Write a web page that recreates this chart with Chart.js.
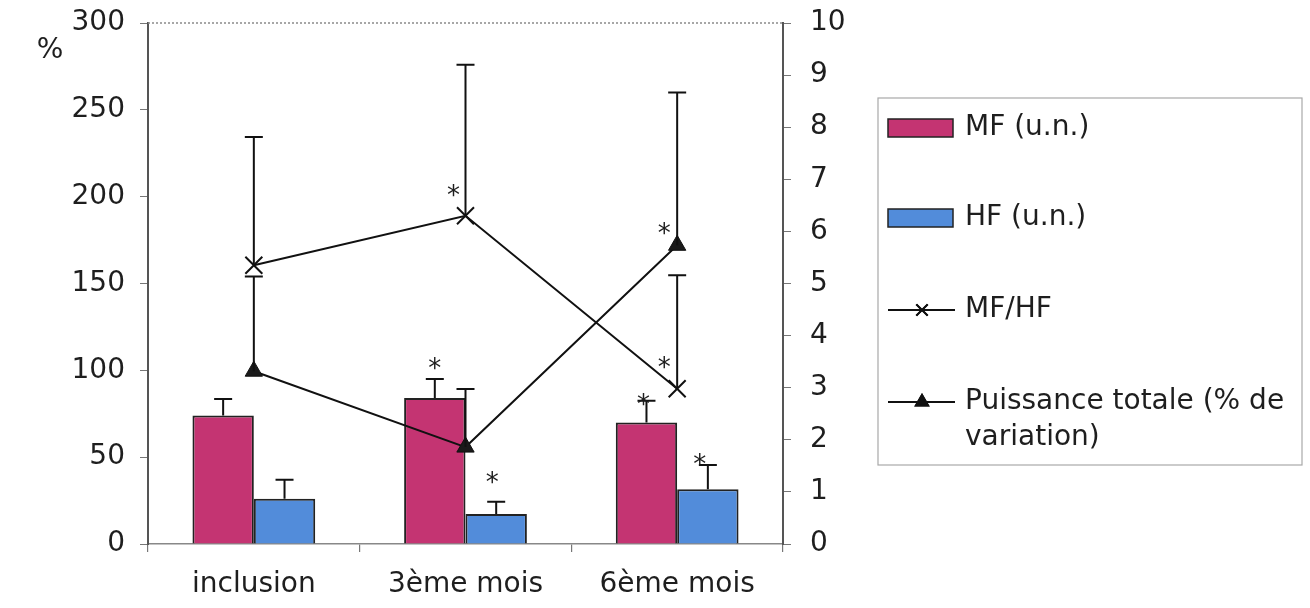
<!DOCTYPE html>
<html>
<head>
<meta charset="utf-8">
<script src="https://cdn.jsdelivr.net/npm/chart.js@4.4.0/dist/chart.umd.min.js"></script>
<style>
  html, body { margin: 0; padding: 0; background: #fff; }
  #wrap { position: relative; width: 1310px; height: 608px; }
</style>
</head>
<body>
<div id="wrap"><canvas id="chart"></canvas></div>
<script>
// data
const categories = ['inclusion', '3ème mois', '6ème mois'];

const mfValues = [74, 84, 70];
const mfErrors = [9.5, 11, 12.5];
const hfValues = [26, 17.3, 31.5];
const hfErrors = [11, 7, 14];

// MF/HF on the right axis (0-10)
const ratioValues = [5.35, 6.3, 2.98];
const ratioErrors = [2.46, 2.9, 2.18];

// puissance totale on the left axis (%)
const powerValues = [99.5, 55.8, 172];
const powerErrors = [54.5, 33.5, 88];

// asterisks (significance) per point
const mfStars = [false, true, true];
const hfStars = [false, true, true];
const ratioStars = [false, true, true];
const powerStars = [false, false, true];

const leftTickStep = 50;
const rightTickStep = 1;

const FONT = '"DejaVu Sans", Verdana, sans-serif';
const FSIZE = 28;
const TEXT = '#1e1e1e';
const MF_COLOR = '#c43472';
const HF_COLOR = '#528cda';

let errorBars = {
    id: 'errorBars',
    afterDatasetsDraw(chart) {
        let ctx = chart.ctx;
        ctx.save();
        ctx.strokeStyle = '#111';
        ctx.lineWidth = 2;
        chart.data.datasets.forEach((ds, i) => {
            if (!ds.errors) return;
            let meta = chart.getDatasetMeta(i);
            let scale = chart.scales[ds.yAxisID];
            meta.data.forEach((el, j) => {
                let v = ds.data[j];
                let top = scale.getPixelForValue(v + ds.errors[j]);
                let base = scale.getPixelForValue(v);
                ctx.beginPath();
                ctx.moveTo(el.x, base);
                ctx.lineTo(el.x, top);
                ctx.moveTo(el.x - 9, top);
                ctx.lineTo(el.x + 9, top);
                ctx.stroke();
            });
        });
        ctx.restore();
    }
};

// where the star sits relative to the point (pixels)
let starOffsets = {
    'MF (u.n.)': [[0, 0], [0, -16], [-3, -1]],
    'HF (u.n.)': [[0, 0], [-4, -24], [-8, -5]],
    'MF/HF': [[0, 0], [-12, -25], [-13, -26]],
    'Puissance totale (% de variation)': [[0, 0], [0, 0], [-13, -17]]
};

let stars = {
    id: 'stars',
    afterDatasetsDraw(chart) {
        let ctx = chart.ctx;
        ctx.save();
        ctx.fillStyle = TEXT;
        ctx.font = '26px ' + FONT;
        ctx.textAlign = 'center';
        ctx.textBaseline = 'alphabetic';
        let m = ctx.measureText('*');
        let mid = (m.actualBoundingBoxAscent - m.actualBoundingBoxDescent) / 2;
        chart.data.datasets.forEach((ds, i) => {
            if (!ds.stars) return;
            let meta = chart.getDatasetMeta(i);
            let scale = chart.scales[ds.yAxisID];
            meta.data.forEach((el, j) => {
                if (!ds.stars[j]) return;
                let off = starOffsets[ds.label][j];
                let anchor = ds.type === 'line'
                    ? scale.getPixelForValue(ds.data[j])
                    : scale.getPixelForValue(ds.data[j] + ds.errors[j]);
                ctx.fillText('*', el.x + off[0], anchor + off[1] + mid);
            });
        });
        ctx.restore();
    }
};

let frame = {
    id: 'frame',
    beforeDatasetsDraw(chart) {
        let a = chart.chartArea;
        let ctx = chart.ctx;
        ctx.save();
        ctx.strokeStyle = '#8a8a8a';
        ctx.lineWidth = 1.5;
        ctx.setLineDash([2, 2]);
        ctx.beginPath();
        ctx.moveTo(a.left, a.top);
        ctx.lineTo(a.right, a.top);
        ctx.stroke();
        ctx.restore();
    },
    afterDraw(chart) {
        let ctx = chart.ctx;
        ctx.save();
        ctx.fillStyle = TEXT;
        ctx.font = FSIZE + 'px ' + FONT;
        ctx.textAlign = 'center';
        ctx.textBaseline = 'middle';
        ctx.fillText('%', 50, 51);
        ctx.restore();
    }
};

let boxLegend = {
    id: 'boxLegend',
    afterDraw(chart) {
        let ctx = chart.ctx;
        ctx.save();
        ctx.strokeStyle = '#a8a8a8';
        ctx.lineWidth = 1.2;
        ctx.strokeRect(878, 98, 424, 367);
        let rows = [128, 218, 310, 402];
        ctx.font = FSIZE + 'px ' + FONT;
        ctx.textBaseline = 'middle';
        ctx.textAlign = 'left';
        chart.data.datasets.forEach((ds, i) => {
            let y = rows[i];
            if (ds.type === 'line') {
                ctx.strokeStyle = '#111';
                ctx.lineWidth = 2;
                ctx.beginPath();
                ctx.moveTo(888, y);
                ctx.lineTo(955, y);
                ctx.stroke();
                Chart.helpers.drawPoint(ctx, {
                    pointStyle: ds.pointStyle, radius: ds.pointStyle === 'triangle' ? 7 : 8,
                    rotation: 0, borderWidth: 2
                }, 922, y);
                ctx.fillStyle = '#111';
                if (ds.pointStyle === 'triangle') ctx.fill();
                ctx.stroke();
            } else {
                ctx.fillStyle = ds.backgroundColor;
                ctx.fillRect(888, y - 9, 65, 18);
                ctx.strokeStyle = '#222';
                ctx.lineWidth = 1.5;
                ctx.strokeRect(888, y - 9, 65, 18);
            }
            ctx.fillStyle = TEXT;
            let lines = ds.legendLines || [ds.label];
            lines.forEach((t, k) => ctx.fillText(t, 965, y + k * 36));
        });
        ctx.restore();
    }
};

function noOverflowV(s) {
    s.paddingTop = 0;
    s.paddingBottom = 0;
}

let chart = new Chart(document.getElementById('chart'), {
    type: 'bar',
    data: {
        labels: categories,
        datasets: [{
            label: 'MF (u.n.)',
            data: mfValues,
            errors: mfErrors,
            stars: mfStars,
            yAxisID: 'y',
            backgroundColor: MF_COLOR,
            borderColor: '#222',
            borderWidth: 2,
            order: 2
        }, {
            label: 'HF (u.n.)',
            data: hfValues,
            errors: hfErrors,
            stars: hfStars,
            yAxisID: 'y',
            backgroundColor: HF_COLOR,
            borderColor: '#222',
            borderWidth: 2,
            order: 2
        }, {
            type: 'line',
            label: 'MF/HF',
            data: ratioValues,
            errors: ratioErrors,
            stars: ratioStars,
            yAxisID: 'y1',
            borderColor: '#111',
            borderWidth: 2,
            backgroundColor: '#111',
            pointStyle: 'crossRot',
            pointRadius: 12,
            pointBorderWidth: 2,
            fill: false,
            tension: 0,
            order: 1
        }, {
            type: 'line',
            label: 'Puissance totale (% de variation)',
            legendLines: ['Puissance totale (% de', 'variation)'],
            data: powerValues,
            errors: powerErrors,
            stars: powerStars,
            yAxisID: 'y',
            borderColor: '#111',
            borderWidth: 2,
            backgroundColor: '#1a1a1a',
            pointStyle: 'triangle',
            pointRadius: 10,
            pointBorderWidth: 1,
            fill: false,
            tension: 0,
            order: 1
        }]
    },
    options: {
        responsive: true,
        maintainAspectRatio: false,
        animation: false,
        datasets: {
            bar: { categoryPercentage: 0.58, barPercentage: 1.0 }
        },
        layout: { padding: { top: 23, bottom: 0, left: 0, right: 457 } },
        plugins: {
            legend: { display: false },
            tooltip: { enabled: false }
        },
        scales: {
            x: {
                afterFit: s => { s.height = 64; s.paddingLeft = 0; s.paddingRight = 0; },
                grid: { display: true, drawOnChartArea: false, tickLength: 8, color: '#777', lineWidth: 1.2 },
                border: { color: '#888', width: 1.5 },
                ticks: { font: { size: FSIZE, family: FONT, lineHeight: 1.0 }, color: TEXT, padding: 19 }
            },
            y: {
                position: 'left',
                min: 0,
                max: 300,
                afterFit: s => { s.width = 148; noOverflowV(s); },
                grid: { drawOnChartArea: false, tickLength: 8, color: '#777' },
                border: { color: '#555', width: 2 },
                ticks: { stepSize: leftTickStep, font: { size: FSIZE, family: FONT }, color: TEXT, padding: 15 }
            },
            y1: {
                position: 'right',
                min: 0,
                max: 10,
                afterFit: s => { s.width = 70; noOverflowV(s); },
                grid: { drawOnChartArea: false, tickLength: 8, color: '#777' },
                border: { color: '#555', width: 2 },
                ticks: { stepSize: rightTickStep, font: { size: FSIZE, family: FONT }, color: TEXT, padding: 19 }
            }
        }
    },
    plugins: [frame, errorBars, stars, boxLegend]
});
</script>
</body>
</html>
